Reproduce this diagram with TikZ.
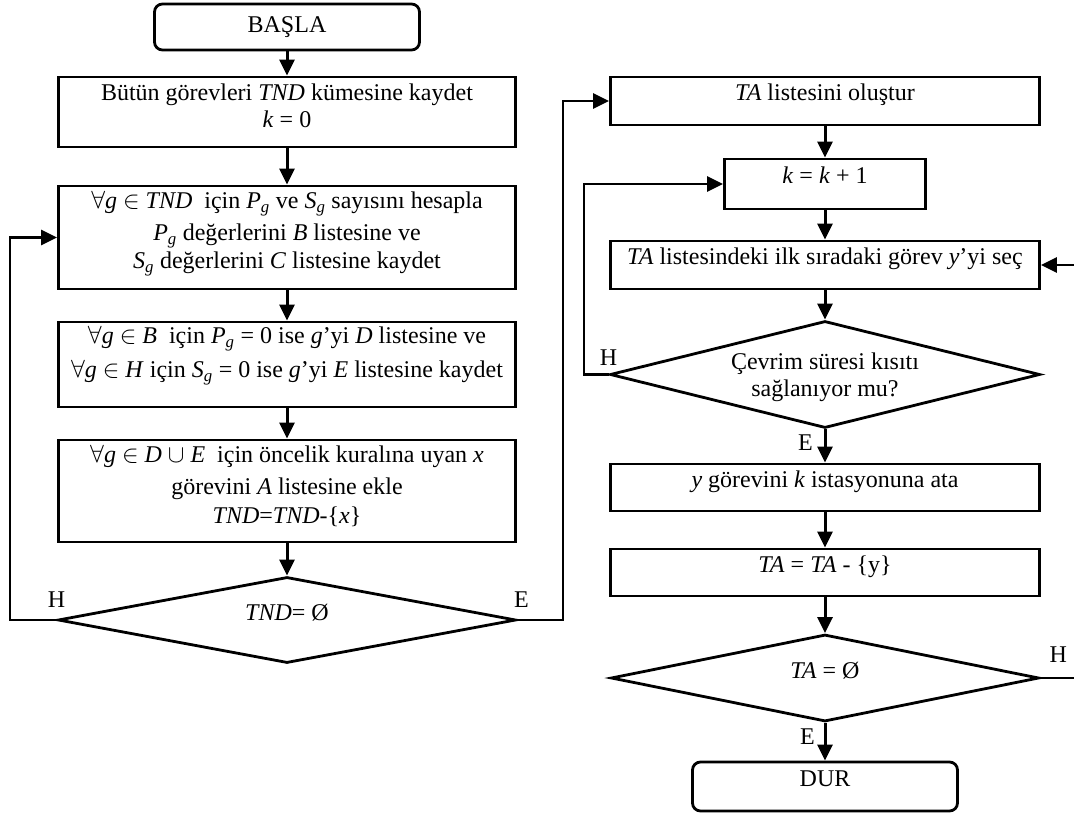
\documentclass[tikz,border=0pt]{standalone}
\usepackage{fontspec}
\setmainfont{Liberation Serif}
\usetikzlibrary{arrows.meta, positioning, shapes.geometric}

\newcommand{\Pg}{\textit{P}\textsubscript{\textit{g}}}
\newcommand{\Sg}{\textit{S}\textsubscript{\textit{g}}}
% invisible struts to place the lines inside a box
\newcommand{\dstrut}[1]{\rule[-#1]{0pt}{#1}}
\newcommand{\hstrut}[1]{\rule{0pt}{#1}}

\begin{document}
\begin{tikzpicture}[
    x=1pt, y=-1pt,
    font=\fontsize{24}{28}\selectfont,
    block/.style={rectangle, draw, line width=2.8pt, align=center, inner ysep=2pt,
                  minimum width=457pt},
    rblock/.style={block, minimum width=429pt},
    sline/.style={text height=15pt, text depth=15pt},
    term/.style={block, rounded corners=8pt, minimum width=265pt},
    decision/.style={diamond, draw, line width=2.8pt, aspect=4, inner sep=0pt, align=center},
    arrow/.style={-{Triangle[length=16pt, width=15pt]}, line width=3pt},
    backline/.style={arrow, line width=2.4pt},
    lbl/.style={inner sep=0pt}
]
\useasboundingbox (0,0) rectangle (1074,821);

% left column
\node[term, minimum height=46pt] (basla) at (287,27) {BAŞLA};
\node[block, minimum height=70pt] (kaydet) at (287,112)
    {Bütün görevleri \textit{TND} kümesine kaydet\\[-1pt] \textit{k} = 0\dstrut{13.5pt}};
\node[block, minimum height=103pt] (hesapla) at (287,237.5)
    {$\forall$\textit{g} $\in$ \textit{TND}\ \ için \Pg{} ve \Sg{} sayısını hesapla\\[4pt]
     \Pg{} değerlerini \textit{B} listesine ve\\
     \Sg{} değerlerini \textit{C} listesine kaydet\dstrut{15pt}};
\node[block, minimum height=85pt] (listele) at (287,364.5)
    {$\forall$\textit{g} $\in$ \textit{B}\ \ için \Pg{} = 0 ise \textit{g}’yi \textit{D} listesine ve\\[6pt]
     $\forall$\textit{g} $\in$ \textit{H} için \Sg{} = 0 ise \textit{g}’yi \textit{E} listesine kaydet\dstrut{25pt}};
\node[block, minimum height=102pt] (ekle) at (287,491)
    {$\forall$\textit{g} $\in$ \textit{D} $\cup$ \textit{E}\ \ için öncelik kuralına uyan \textit{x}\\[4pt]
     görevini \textit{A} listesine ekle\\[1pt]
     \textit{TND}=\textit{TND}-\{\textit{x}\}\dstrut{13.5pt}};
\node[decision, minimum width=458pt, minimum height=86pt, sline] (dec1) at (287,620) {\textit{TND}= Ø};

% right column
\node[rblock, minimum height=48pt, sline] (olustur) at (825,101) {\textit{TA} listesini oluştur};
\node[rblock, minimum width=201pt, minimum height=50pt, sline] (kart) at (825,184) {\textit{k} = \textit{k} + 1};
\node[rblock, minimum height=48pt, sline] (sec) at (825,265)
    {\textit{TA} listesindeki ilk sıradaki görev \textit{y}’yi seç};
\node[decision, minimum width=430pt, minimum height=107pt] (dec2) at (825,374.5)
    {\hstrut{23pt}Çevrim süresi kısıtı\\[-1pt] sağlanıyor mu?};
\node[rblock, minimum height=47pt, sline] (ata) at (825,487.5) {\textit{y} görevini \textit{k} istasyonuna ata};
\node[rblock, minimum height=47pt, sline] (cikar) at (825,572.5) {\textit{TA} = \textit{TA} - \{y\}};
\node[decision, minimum width=428pt, minimum height=87pt, sline] (dec3) at (825,678) {\textit{TA} = Ø};
\node[term, minimum height=49pt, sline] (dur) at (825,786.5) {DUR};

% labels
\node[lbl, above=12pt of dec1.west] (h1) {H};
\node[lbl, above=12pt of dec1.east, xshift=4pt] (e1) {E};
\node[lbl, above=8.5pt of dec2.west] (h2) {H};
\node[lbl, below left=5pt and 12pt of dec2.south] (e2) {E};
\node[lbl, above=15pt of dec3.east, xshift=18pt] (h3) {H};
\node[lbl, below left=6pt and 10pt of dec3.south] (e3) {E};

% connectors
\draw[arrow] (basla) -- (kaydet);
\draw[arrow] (kaydet) -- (hesapla);
\draw[arrow] (hesapla) -- (listele);
\draw[arrow] (listele) -- (ekle);
\draw[arrow] (ekle) -- (dec1);
\coordinate (hback) at (10,620);
\draw[backline] (dec1.west) -- (hback) |- (hesapla.west);
\coordinate (eto) at (563,620);
\draw[backline] (dec1.east) -- (eto) |- (olustur.west);

\draw[arrow] (olustur) -- (kart);
\draw[arrow] (kart) -- (sec);
\draw[arrow] (sec) -- (dec2);
\draw[arrow] (dec2) -- (ata);
\draw[arrow] (ata) -- (cikar);
\draw[arrow] (cikar) -- (dec3);
\draw[arrow] (dec3) -- (dur);
\coordinate (kback) at (584,374.5);
\draw[backline] (dec2.west) -- (kback) |- (kart.west);
\coordinate (secback) at (1077,678);
\draw[backline] (dec3.east) -- (secback) |- (sec.east);
\end{tikzpicture}
\end{document}
